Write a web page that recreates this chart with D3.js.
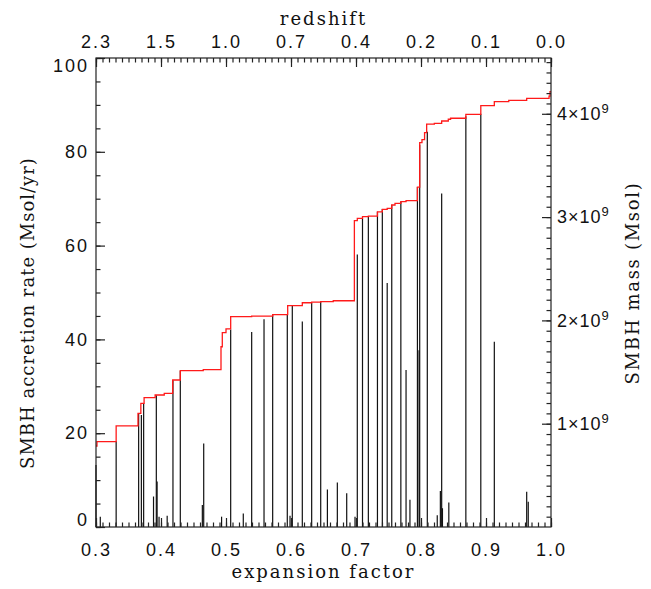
<!DOCTYPE html>
<meta charset="utf-8">
<script src="https://d3js.org/d3.v7.min.js"></script>
<html>
<body style="margin:0;background:#fff">
<div id="chart"></div>
<script>

// expansion factor of each accretion burst and its rate (Msol/yr)
var burstA    = [0.300, 0.3066, 0.331, 0.3656, 0.3698, 0.3733, 0.3885, 0.3928, 0.394, 0.397, 0.4095,
                 0.4184, 0.4297, 0.4636, 0.4657, 0.4932, 0.5072, 0.5266, 0.5395, 0.5585, 0.5718,
                 0.5943, 0.5985, 0.602, 0.6174, 0.6318, 0.6457, 0.656, 0.6713, 0.6857, 0.6985,
                 0.702, 0.710, 0.719, 0.733, 0.7405, 0.748, 0.755, 0.769, 0.777, 0.783,
                 0.7945, 0.797, 0.798, 0.8097, 0.825, 0.8298, 0.8318, 0.833, 0.8428, 0.869,
                 0.892, 0.9128, 0.9626, 0.965];
var burstRate = [13.2, 2.2, 18.3, 24.3, 23.9, 26.4, 6.5, 28.1, 9.7, 2.2, 2.4,
                 31.3, 33.3, 4.7, 17.8, 2.2, 42.1, 2.9, 41.6, 44.3, 45.2,
                 45.3, 2.4, 47.1, 43.8, 47.8, 48.0, 8.0, 9.5, 7.2, 2.2,
                 58.1, 65.8, 66.2, 67.2, 67.8, 52.0, 68.7, 69.4, 33.5, 5.8,
                 72.5, 37.7, 81.5, 84.3, 2.5, 7.7, 71.1, 4.0, 5.2, 87.6,
                 88.1, 39.5, 7.5, 5.4];

// SMBH mass history (units of 1e9 Msol), steps at these expansion factors
var massA   = [0.300, 0.3015, 0.331, 0.3646, 0.369, 0.374, 0.391, 0.405, 0.418, 0.4297, 0.465,
               0.4923, 0.4943, 0.500, 0.5072, 0.5395, 0.5718, 0.5949, 0.6174, 0.6318, 0.6457, 0.665,
               0.6975, 0.702, 0.710, 0.719, 0.733, 0.7405, 0.748, 0.755, 0.760, 0.769, 0.777,
               0.7945, 0.798, 0.8015, 0.8055, 0.8087, 0.8205, 0.8318, 0.842, 0.8455, 0.869,
               0.892, 0.9128, 0.935, 0.9626, 0.997, 0.9985, 1.0];
var massVal = [0.784, 0.826, 0.978, 1.100, 1.197, 1.252, 1.278, 1.294, 1.423, 1.513, 1.523,
               1.745, 1.881, 1.917, 2.036, 2.042, 2.055, 2.143, 2.171, 2.177, 2.181, 2.190,
               2.965, 2.988, 3.004, 3.010, 3.050, 3.075, 3.085, 3.117, 3.133, 3.149, 3.159,
               3.290, 3.720, 3.750, 3.817, 3.900, 3.908, 3.930, 3.947, 3.957, 3.995,
               4.079, 4.117, 4.130, 4.150, 4.170, 4.214, 4.214];

var bottomTicks = [0.3, 0.4, 0.5, 0.6, 0.7, 0.8, 0.9, 1.0];
var redshiftLabels = ["2.3", "1.5", "1.0", "0.7", "0.4", "0.2", "0.1", "0.0"];
var rateTicks = [0, 20, 40, 60, 80, 100];
var massTicks = [1, 2, 3, 4];

var W = 651, H = 589;
var margin = {top: 58, right: 100, bottom: 62, left: 96},
    width = W - margin.left - margin.right,
    height = H - margin.top - margin.bottom;

var svg = d3.select("#chart").append("svg")
    .attr("width", W).attr("height", H)
    .style("font-family", "'DejaVu Serif', serif");

var g = svg.append("g")
    .attr("transform", "translate(" + margin.left + "," + margin.top + ")");

var x = d3.scaleLinear().domain([0.3, 1.0]).range([0, width]);
var yRate = d3.scaleLinear().domain([0, 100]).range([height, 0]);
var yMass = d3.scaleLinear().domain([0, 4.54]).range([height, 0]);

// accretion spikes
g.selectAll(".spike")
  .data(burstA)
  .enter().append("line")
    .attr("class", "spike")
    .attr("x1", function(d) { return x(d); })
    .attr("x2", function(d) { return x(d); })
    .attr("y1", yRate(0))
    .attr("y2", function(d, i) { return yRate(burstRate[i]); })
    .attr("stroke", "#111")
    .attr("stroke-width", 1.2);

// mass history
var massLine = d3.line()
    .x(function(d) { return x(d[0]); })
    .y(function(d) { return yMass(d[1]); })
    .curve(d3.curveStepAfter);

g.append("path")
  .datum(massA.map(function(a, i) { return [a, massVal[i]]; }))
  .attr("d", massLine)
  .attr("fill", "none")
  .attr("stroke", "#ff1a1a")
  .attr("stroke-width", 1.3);

// frame
g.append("rect")
  .attr("width", width).attr("height", height)
  .attr("fill", "none").attr("stroke", "#222").attr("stroke-width", 1.2);

function range(a, b, s) {
  var out = [];
  for (var v = a; v <= b + 1e-9; v += s) out.push(+v.toFixed(4));
  return out;
}

function styleAxis(sel) {
  sel.select(".domain").remove();
  sel.selectAll("line").attr("stroke", "#222").attr("stroke-width", 1.2);
  sel.selectAll("text").attr("fill", "#111").style("font-size", "18px").style("letter-spacing", "2px");
}

// left axis: accretion rate
g.append("g").call(d3.axisLeft(yRate).tickValues(range(0, 100, 5)).tickSize(-4.5).tickFormat(""))
  .call(styleAxis);
var left = g.append("g").call(d3.axisLeft(yRate).tickValues(rateTicks).tickSize(-9).tickPadding(7))
  .call(styleAxis);
left.selectAll("text").attr("dy", function(d) {
  return d === 0 ? "-0.1em" : d === 100 ? "0.75em" : "0.32em";
});

// right axis: SMBH mass
g.append("g").attr("transform", "translate(" + width + ",0)")
  .call(d3.axisRight(yMass).tickValues(range(0.1, 4.5, 0.1)).tickSize(-4.5).tickFormat(""))
  .call(styleAxis);
var right = g.append("g").attr("transform", "translate(" + width + ",0)")
  .call(d3.axisRight(yMass).tickValues(massTicks).tickSize(-9).tickPadding(6).tickFormat(""))
  .call(styleAxis);
right.selectAll(".tick text").each(function(d) {
  var t = d3.select(this).style("font-size", "18px").style("letter-spacing", "1px");
  t.append("tspan").text(d + "\u00d710");
  t.append("tspan").attr("dy", "-0.55em").style("font-size", "13px").text("9");
});

// bottom axis: expansion factor
g.append("g").attr("transform", "translate(0," + height + ")")
  .call(d3.axisBottom(x).tickValues(range(0.3, 1.0, 0.01)).tickSize(-4.5).tickFormat(""))
  .call(styleAxis);
g.append("g").attr("transform", "translate(0," + height + ")")
  .call(d3.axisBottom(x).tickValues(bottomTicks).tickSize(-9).tickPadding(16).tickFormat(d3.format(".1f")))
  .call(styleAxis);

// top axis: redshift
g.append("g")
  .call(d3.axisTop(x).tickValues(range(0.3, 1.0, 0.01)).tickSize(-4.5).tickFormat(""))
  .call(styleAxis);
g.append("g")
  .call(d3.axisTop(x).tickValues(bottomTicks).tickSize(-9).tickPadding(10)
    .tickFormat(function(d, i) { return redshiftLabels[i]; }))
  .call(styleAxis);

// titles
function title(txt, ls) {
  return svg.append("text").attr("text-anchor", "middle").attr("fill", "#111")
    .style("font-size", "18px").style("letter-spacing", ls + "px").text(txt);
}
title("redshift", 2).attr("x", margin.left + width / 2).attr("y", 25);
title("expansion factor", 2).attr("x", margin.left + width / 2).attr("y", 578);
title("SMBH accretion rate (Msol/yr)", 1).attr("transform", "translate(34,313) rotate(-90)");
title("SMBH mass (Msol)", 1.7).attr("transform", "translate(639,283) rotate(-90)");

</script>
</body>
</html>
